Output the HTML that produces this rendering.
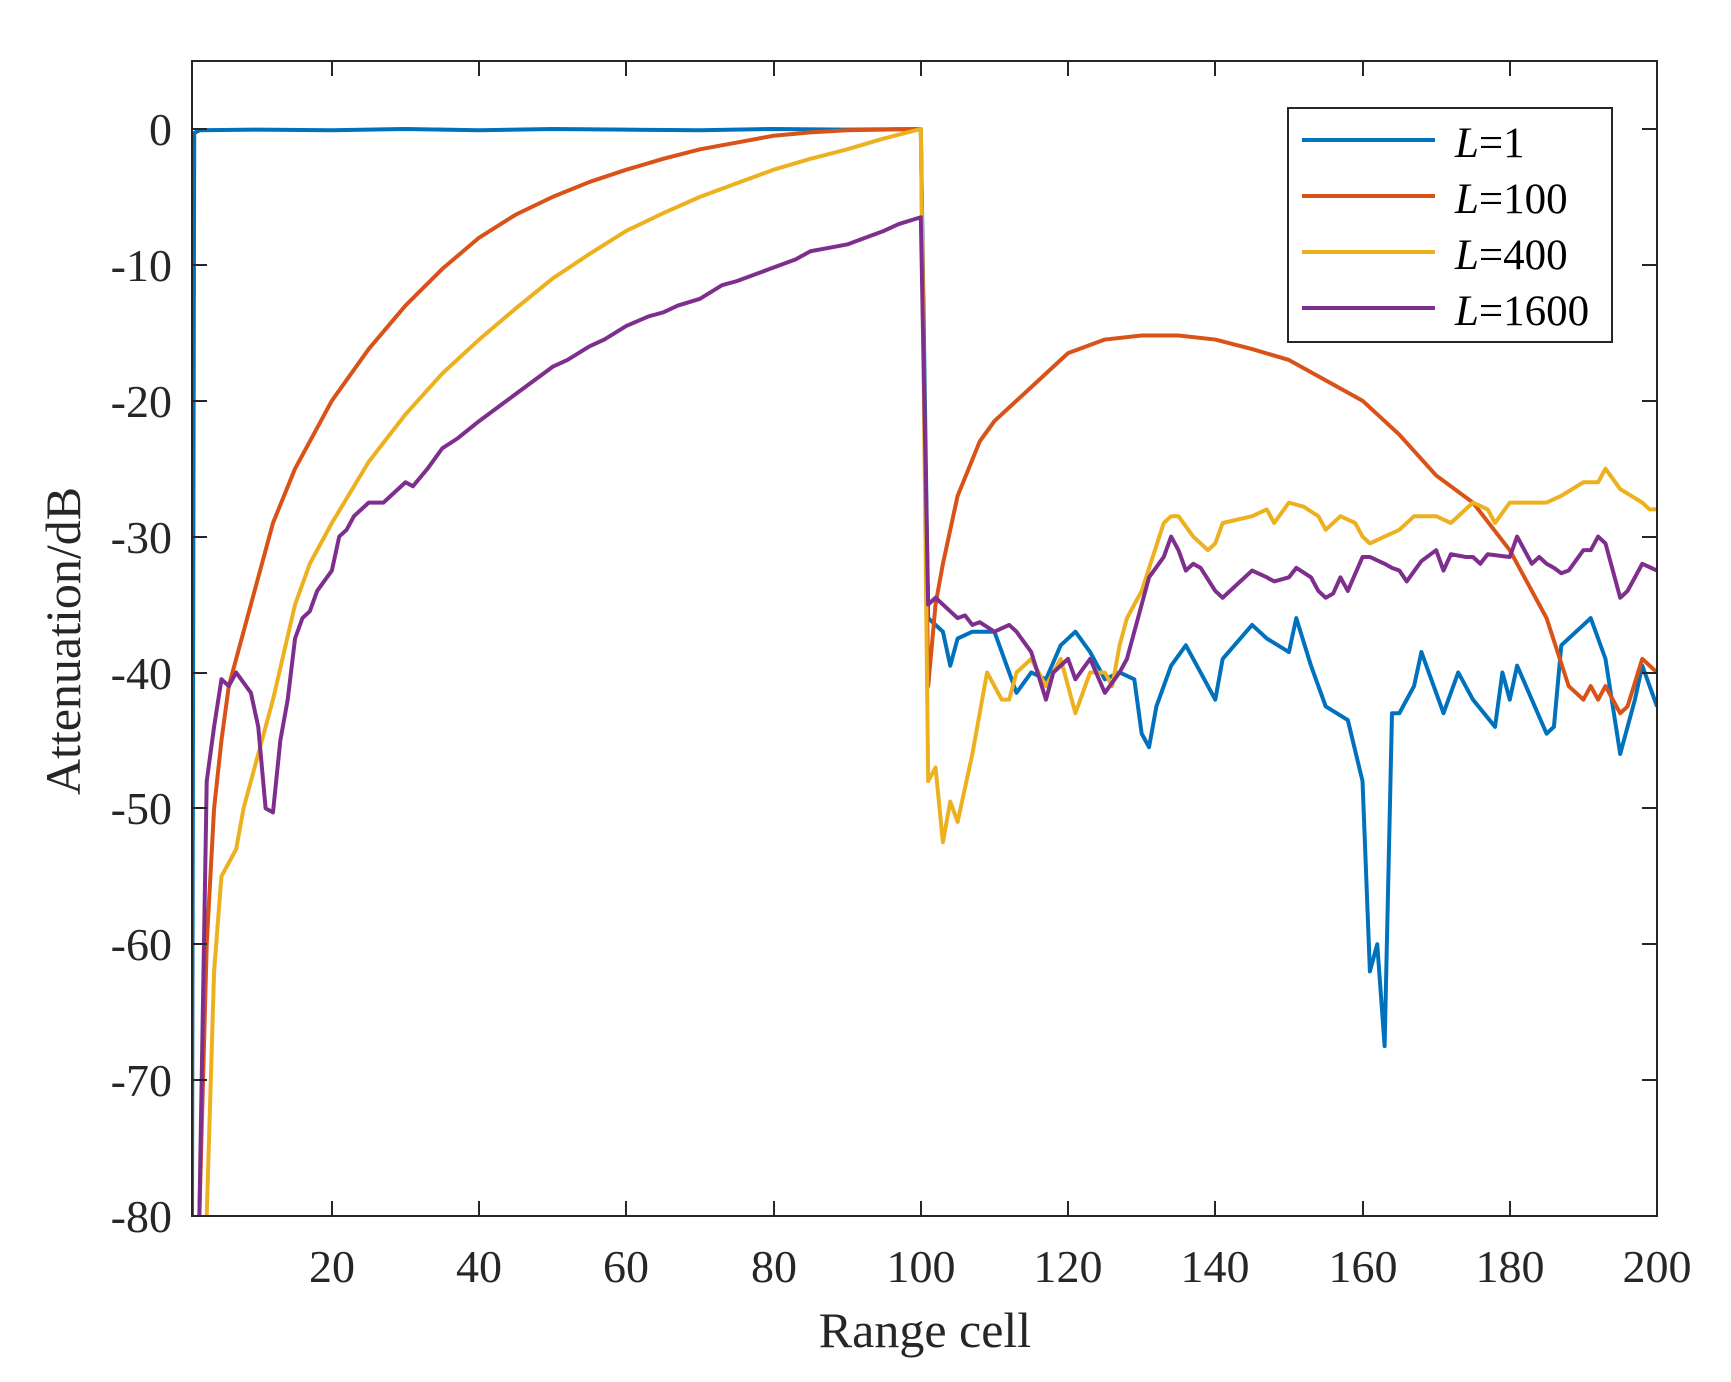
<!DOCTYPE html>
<html><head><meta charset="utf-8"><style>
html,body{margin:0;padding:0;background:#fff;}
text{font-family:"Liberation Serif",serif;fill:#262626;}
</style></head><body>
<svg width="1731" height="1377" xmlns="http://www.w3.org/2000/svg">
<rect width="1731" height="1377" fill="#fff"/>
<svg x="192" y="61" width="1465" height="1155" viewBox="1 -5 199 85" preserveAspectRatio="none">
<g fill="none" stroke-width="4" stroke-linejoin="round">
<polyline vector-effect="non-scaling-stroke" stroke="#0072BD" points="1,80 1.3,0.3 2,0.1 10,0.05 20,0.1 30,0 40,0.1 50,0 60,0.05 70,0.1 80,0 90,0.05 100,0 101,36 103,37 104,39.5 105,37.5 107,37 110,37 113,41.5 115,40 117,40.5 119,38 121,37 123,38.5 125,40.5 127,40 129,40.5 130,44.5 131,45.5 132,42.5 134,39.5 136,38 138,40 140,42 141,39 145,36.5 147,37.5 150,38.5 151,36 153,39.5 155,42.5 158,43.5 160,48 161,62 162,60 163,67.5 164,43 165,43 167,41 168,38.5 171,43 173,40 175,42 178,44 179,40 180,42 181,39.5 183,42 185,44.5 186,44 187,38 190,36.5 191,36 193,39 195,46 197,42 198,39.5 200,42.5"/>
<polyline vector-effect="non-scaling-stroke" stroke="#D95319" points="2,80 3,60 4,50 5,45 6,41 8,37 10,33 12,29 15,25 20,20 25,16.2 30,13 35,10.3 40,8 45,6.3 50,5 55,3.9 60,3 65,2.2 70,1.5 75,1 80,0.5 85,0.25 90,0.1 100,0 101,41 102,35 103,32 105,27 108,23 110,21.5 115,19 120,16.5 125,15.5 130,15.2 135,15.2 140,15.5 145,16.2 150,17 155,18.5 160,20 165,22.5 170,25.5 175,27.5 180,31 185,36 188,41 190,42 191,41 192,42 193,41 195,43 196,42.5 198,39 200,40"/>
<polyline vector-effect="non-scaling-stroke" stroke="#EDB120" points="3,80 4,62 5,55 7,53 8,50 10,46 12,42 15,35 17,32 20,29 25,24.5 30,21 35,18 40,15.5 45,13.2 50,11 55,9.2 60,7.5 65,6.2 70,5 75,4 80,3 85,2.2 90,1.5 95,0.7 100,0 101,48 102,47 103,52.5 104,49.5 105,51 107,46 109,40 111,42 112,42 113,40 115,39 117,41 119,39 121,43 123,40 125,40 126,41 127,38 128,36 130,34 133,29 134,28.5 135,28.5 137,30 139,31 140,30.5 141,29 145,28.5 147,28 148,29 150,27.5 152,27.8 154,28.5 155,29.5 157,28.5 159,29 160,30 161,30.5 163,30 165,29.5 167,28.5 170,28.5 172,29 175,27.5 177,28 178,29 180,27.5 182,27.5 185,27.5 187,27 190,26 192,26 193,25 195,26.5 198,27.5 199,28 200,28"/>
<polyline vector-effect="non-scaling-stroke" stroke="#7E2F8E" points="2,80 3,48 4,44 5,40.5 6,41 7,40 9,41.5 10,44 11,50 12,50.3 13,45 14,42 15,37.5 16,36 17,35.5 18,34 20,32.5 21,30 22,29.5 23,28.5 25,27.5 27,27.5 30,26 31,26.3 33,25 35,23.5 37,22.8 40,21.5 42,20.7 45,19.5 47,18.7 50,17.5 52,17 55,16 57,15.5 60,14.5 63,13.8 65,13.5 67,13 70,12.5 73,11.5 75,11.2 78,10.6 80,10.2 83,9.6 85,9 88,8.7 90,8.5 92,8.1 95,7.5 97,7 100,6.5 101,35 102,34.5 104,35.5 105,36 106,35.8 107,36.5 108,36.3 110,37 112,36.5 113,37 115,38.5 117,42 118,40 120,39 121,40.5 123,39 125,41.5 127,40 128,39 129,37 130,35 131,33 133,31.5 134,30 135,31 136,32.5 137,32 138,32.3 140,34 141,34.5 143,33.5 145,32.5 147,33 148,33.3 150,33 151,32.3 153,33 154,34 155,34.5 156,34.2 157,33 158,34 160,31.5 161,31.5 163,32 164,32.3 165,32.5 166,33.3 168,31.8 170,31 171,32.5 172,31.3 174,31.5 175,31.5 176,32 177,31.3 180,31.5 181,30 182,31 183,32 184,31.5 185,32 186,32.3 187,32.7 188,32.5 190,31 191,31 192,30 193,30.5 195,34.5 196,34 198,32 200,32.5"/>
</g>
</svg>
<rect x="192" y="61" width="1465" height="1155" fill="none" stroke="#262626" stroke-width="2"/>
<g stroke="#262626" stroke-width="2">
<line x1="332" y1="1216" x2="332" y2="1201"/><line x1="332" y1="61" x2="332" y2="76"/>
<line x1="479" y1="1216" x2="479" y2="1201"/><line x1="479" y1="61" x2="479" y2="76"/>
<line x1="626" y1="1216" x2="626" y2="1201"/><line x1="626" y1="61" x2="626" y2="76"/>
<line x1="774" y1="1216" x2="774" y2="1201"/><line x1="774" y1="61" x2="774" y2="76"/>
<line x1="921" y1="1216" x2="921" y2="1201"/><line x1="921" y1="61" x2="921" y2="76"/>
<line x1="1068" y1="1216" x2="1068" y2="1201"/><line x1="1068" y1="61" x2="1068" y2="76"/>
<line x1="1215" y1="1216" x2="1215" y2="1201"/><line x1="1215" y1="61" x2="1215" y2="76"/>
<line x1="1363" y1="1216" x2="1363" y2="1201"/><line x1="1363" y1="61" x2="1363" y2="76"/>
<line x1="1510" y1="1216" x2="1510" y2="1201"/><line x1="1510" y1="61" x2="1510" y2="76"/>
<line x1="192" y1="129" x2="207" y2="129"/><line x1="1657" y1="129" x2="1642" y2="129"/>
<line x1="192" y1="265" x2="207" y2="265"/><line x1="1657" y1="265" x2="1642" y2="265"/>
<line x1="192" y1="401" x2="207" y2="401"/><line x1="1657" y1="401" x2="1642" y2="401"/>
<line x1="192" y1="537" x2="207" y2="537"/><line x1="1657" y1="537" x2="1642" y2="537"/>
<line x1="192" y1="673" x2="207" y2="673"/><line x1="1657" y1="673" x2="1642" y2="673"/>
<line x1="192" y1="808" x2="207" y2="808"/><line x1="1657" y1="808" x2="1642" y2="808"/>
<line x1="192" y1="944" x2="207" y2="944"/><line x1="1657" y1="944" x2="1642" y2="944"/>
<line x1="192" y1="1080" x2="207" y2="1080"/><line x1="1657" y1="1080" x2="1642" y2="1080"/>
</g>
<g font-size="46" text-anchor="end">
<text x="172" y="145">0</text>
<text x="172" y="281">-10</text>
<text x="172" y="417">-20</text>
<text x="172" y="553">-30</text>
<text x="172" y="689">-40</text>
<text x="172" y="824">-50</text>
<text x="172" y="960">-60</text>
<text x="172" y="1096">-70</text>
<text x="172" y="1232">-80</text>
</g>
<g font-size="46" text-anchor="middle">
<text x="332" y="1282">20</text>
<text x="479" y="1282">40</text>
<text x="626" y="1282">60</text>
<text x="774" y="1282">80</text>
<text x="921" y="1282">100</text>
<text x="1068" y="1282">120</text>
<text x="1215" y="1282">140</text>
<text x="1363" y="1282">160</text>
<text x="1510" y="1282">180</text>
<text x="1657" y="1282">200</text>
</g>
<text x="925" y="1347" font-size="50" text-anchor="middle">Range cell</text>
<text transform="translate(80,641) rotate(-90)" font-size="50" text-anchor="middle">Attenuation/dB</text>
<rect x="1288" y="108" width="324" height="234" fill="#fff" stroke="#262626" stroke-width="2"/>
<g stroke-width="4">
<line x1="1302" y1="140" x2="1435" y2="140" stroke="#0072BD"/>
<line x1="1302" y1="196" x2="1435" y2="196" stroke="#D95319"/>
<line x1="1302" y1="252" x2="1435" y2="252" stroke="#EDB120"/>
<line x1="1302" y1="308" x2="1435" y2="308" stroke="#7E2F8E"/>
</g>
<g font-size="43">
<text x="1455" y="157" style="fill:#000"><tspan font-style="italic">L</tspan>=1</text>
<text x="1455" y="213" style="fill:#000"><tspan font-style="italic">L</tspan>=100</text>
<text x="1455" y="269" style="fill:#000"><tspan font-style="italic">L</tspan>=400</text>
<text x="1455" y="325" style="fill:#000"><tspan font-style="italic">L</tspan>=1600</text>
</g>
</svg>
</body></html>
